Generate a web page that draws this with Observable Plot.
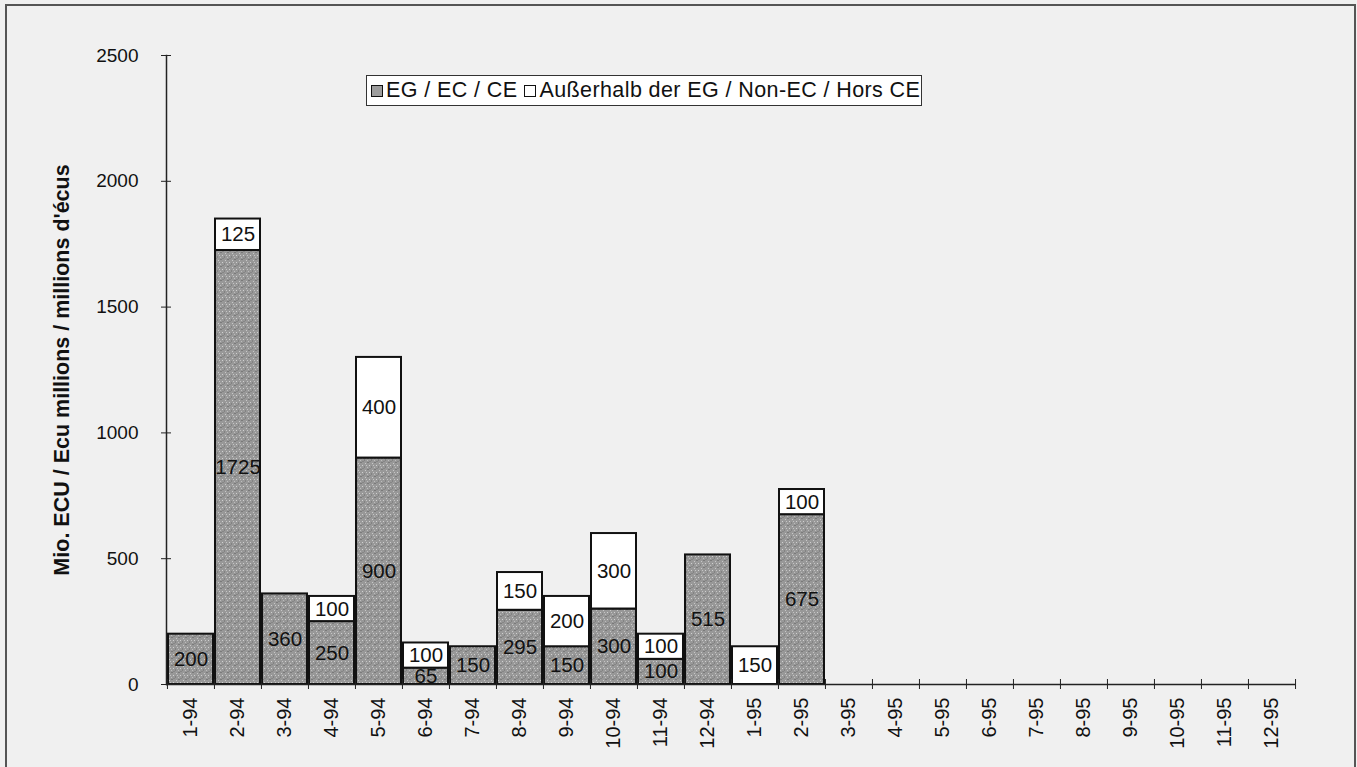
<!DOCTYPE html>
<html>
<head>
<meta charset="utf-8">
<script src="https://cdn.jsdelivr.net/npm/d3@7"></script>
<script src="https://cdn.jsdelivr.net/npm/@observablehq/plot@0.6"></script>
<style>
  html, body { margin: 0; padding: 0; background: #f0f0f0; }
  #wrap { position: relative; width: 1357px; height: 767px; overflow: hidden; font-family: "Liberation Sans", Arial, sans-serif; }
  #border { position: absolute; left: 5px; top: 4px; width: 1351px; height: 780px; border: 2px solid #555; box-sizing: border-box; pointer-events: none; }
  #legend { position: absolute; left: 366px; top: 75px; height: 31px; width: 556px; box-sizing: border-box; border: 1.5px solid #333; background: #fff; display: flex; align-items: center; padding-left: 4px; font-size: 21.5px; letter-spacing: 0.4px; color: #111; white-space: nowrap; }
  #legend .sw { display: inline-block; width: 12px; height: 12px; border: 1.5px solid #111; margin-right: 3px; box-sizing: border-box; }
  #legend .item { display: inline-flex; align-items: center; margin-right: 7px; }
</style>
</head>
<body>
<div id="wrap">
  <div id="chart"></div>
  <div id="legend"></div>
  <div id="border"></div>
</div>
<script>
const months = ["1-94","2-94","3-94","4-94","5-94","6-94","7-94","8-94","9-94","10-94","11-94","12-94",
                "1-95","2-95","3-95","4-95","5-95","6-95","7-95","8-95","9-95","10-95","11-95","12-95"];
const ecValues    = [200, 1725, 360, 250, 900, 65, 150, 295, 150, 300, 100, 515, 0, 675, 0, 0, 0, 0, 0, 0, 0, 0, 0, 0];
const nonEcValues = [0,   125,  0,   100, 400, 100, 0,  150, 200, 300, 100, 0, 150, 100, 0, 0, 0, 0, 0, 0, 0, 0, 0, 0];
const series = ["EG / EC / CE", "Außerhalb der EG / Non-EC / Hors CE"];
const seriesColors = ["url(#stipple)", "#ffffff"];
const swatchColors = ["#9d9d9d", "#ffffff"];
const yTicks = [0, 500, 1000, 1500, 2000, 2500];
const yTitle = "Mio. ECU / Ecu millions / millions d'écus";

const rows = [];
months.forEach((m, i) => rows.push({month: m, series: series[0], value: ecValues[i]}));
months.forEach((m, i) => rows.push({month: m, series: series[1], value: nonEcValues[i]}));
const shown = rows.filter(d => d.value > 0);

const W = 1357, H = 767, ML = 166, MR = 61, MT = 55, MB = 83;
const step = (W - ML - MR) / months.length;
const plain = d => String(d);

const chart = Plot.plot({
  width: W, height: H,
  marginLeft: ML, marginRight: MR, marginTop: MT, marginBottom: MB,
  style: {background: "transparent", fontFamily: "'Liberation Sans', Arial, sans-serif", color: "#111"},
  x: {domain: months, paddingInner: 0.04, paddingOuter: 0.02, label: null},
  y: {domain: [0, 2500], label: null},
  color: {domain: series, range: seriesColors},
  marks: [
    Plot.barY(shown, {x: "month", y: "value", fill: "series", stroke: "#111", strokeWidth: 2}),
    Plot.text(shown, Plot.stackY({x: "month", y: "value", z: "series", text: d => String(d.value), fontSize: 20.5, fill: "#111"})),
    Plot.ruleY([0], {stroke: "#222", strokeWidth: 1.5}),
    Plot.frame({anchor: "left", stroke: "#222", strokeWidth: 1.5}),
    Plot.axisY(yTicks, {tickSize: 10, dx: 5, tickFormat: () => "", label: null, stroke: "#222"}),
    Plot.axisY(yTicks, {tickSize: 0, tickPadding: 28, fontSize: 19, tickFormat: plain, label: null}),
    Plot.axisX(months, {tickSize: 10, dy: -5, dx: -step / 2, tickFormat: () => "", label: null, stroke: "#222"}),
    Plot.axisX(months.slice(-1), {tickSize: 10, dy: -5, dx: step / 2, tickFormat: () => "", label: null, stroke: "#222"}),
    Plot.axisX(months, {tickSize: 0, tickPadding: 13, tickRotate: -90, textAnchor: "end", lineAnchor: "middle", fontSize: 20, label: null}),
    Plot.text([yTitle], {frameAnchor: "left", rotate: -90, dx: -104, textAnchor: "middle", fontWeight: "bold", fontSize: 21.5, fill: "#111"})
  ]
});

// stipple texture for the EG bars
const ns = "http://www.w3.org/2000/svg";
const defs = document.createElementNS(ns, "defs");
const pat = document.createElementNS(ns, "pattern");
pat.setAttribute("id", "stipple");
pat.setAttribute("patternUnits", "userSpaceOnUse");
pat.setAttribute("width", 7);
pat.setAttribute("height", 7);
const dots = [["#989898",0,0,7,7],["#c8c8c8",1,1,1,1],["#7a7a7a",3,0,2,1],["#d0d0d0",5,3,1,1],["#828282",0,4,1,2],["#bdbdbd",3,5,1,1],["#868686",5,6,2,1],["#c4c4c4",2,3,1,1]];
dots.forEach(([c,x,y,w,h]) => {
  const r = document.createElementNS(ns, "rect");
  r.setAttribute("x", x); r.setAttribute("y", y); r.setAttribute("width", w); r.setAttribute("height", h);
  r.setAttribute("fill", c);
  pat.appendChild(r);
});
defs.appendChild(pat);
chart.insertBefore(defs, chart.firstChild);
document.getElementById("chart").appendChild(chart);

const legend = document.getElementById("legend");
series.forEach((s, i) => {
  const item = document.createElement("span");
  item.className = "item";
  const sw = document.createElement("span");
  sw.className = "sw";
  sw.style.background = swatchColors[i];
  item.appendChild(sw);
  item.appendChild(document.createTextNode(s));
  legend.appendChild(item);
});
</script>
</body>
</html>
